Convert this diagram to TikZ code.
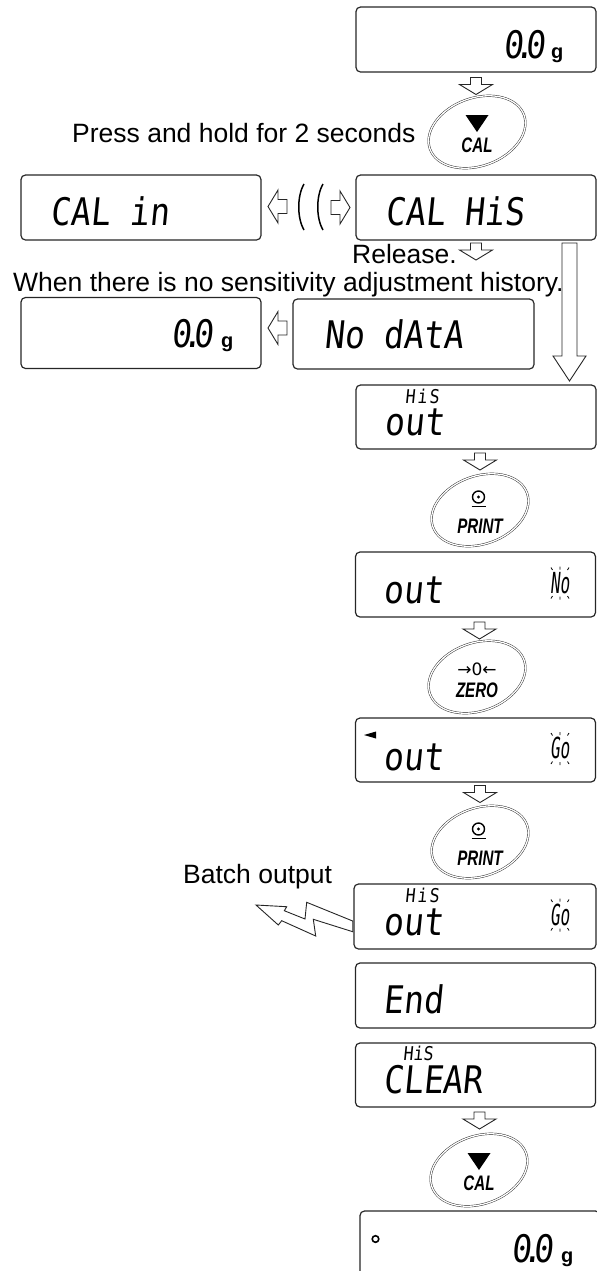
\documentclass[tikz,border=0pt]{standalone}
\usepackage{fontspec}
\setmainfont{Liberation Sans}
\newfontfamily\lcdfont[FakeStretch=0.87,FakeSlant=0.1]{DejaVu Sans Mono}
\newfontfamily\lcdnarrowfont[FakeStretch=0.55,FakeSlant=0.1]{DejaVu Sans Mono}
\newfontfamily\keyfont[FakeStretch=0.72]{Liberation Sans}
\newfontfamily\symfont{DejaVu Sans}
\usetikzlibrary{calc}
\newcommand\lcdpt{\kern-8.5bp.\kern-8.5bp}
\begin{document}
\begin{tikzpicture}[x=1bp,y=-1bp,
    lcdbox/.style={draw=black!85,line width=1.2bp,rounded corners=4.5bp,
                   minimum width=240bp,minimum height=65bp,inner sep=0},
    lcd/.style={font=\lcdfont\fontsize{38bp}{38bp}\selectfont,inner sep=0,anchor=base west},
    lcdsmall/.style={font=\lcdfont\fontsize{19bp}{19bp}\selectfont,inner sep=0,anchor=base west},
    lcdflag/.style={font=\lcdnarrowfont\fontsize{29bp}{29bp}\selectfont,inner sep=0,anchor=base west},
    unit/.style={font=\bfseries\fontsize{20bp}{20bp}\selectfont,inner sep=0,anchor=base west},
    lbl/.style={font=\fontsize{26.5bp}{30bp}\selectfont,inner sep=0,anchor=base west},
    keylbl/.style={font=\keyfont\bfseries\itshape\fontsize{21bp}{21bp}\selectfont,inner sep=0,anchor=base},
    keyring/.style={draw=black!85,line width=.45bp,double=white,double distance=1.3bp},
    hollow/.style={draw=black!85,line width=.9bp,fill=white,line join=miter},
    ray/.style={line width=.8bp},
    downarr/.pic={\draw[hollow] (-5.5,-8) -- (5.5,-8) -- (5.5,-1) -- (16.5,-1) -- (0,9)
                   -- (-16.5,-1) -- (-5.5,-1) -- cycle;},
    leftarr/.pic={\draw[hollow] (9,-7) -- (0,-7) -- (0,-16.5) -- (-10,0) -- (0,16.5)
                   -- (0,7) -- (9,7) -- cycle;},
    blink/.pic={\draw[ray] (-9,-15)--(-7.5,-12.5) (0,-16)--(0,-13) (9,-15)--(7.5,-12.5)
                           (-9,16)--(-7.5,13.5) (0,17)--(0,14) (9,16)--(7.5,13.5);},
    calkey/.pic={\draw[keyring,rotate=20] (0,0) ellipse [x radius=50,y radius=34];
                 \fill (-11.5,-17) -- (11.5,-17) -- (0,0) -- cycle;
                 \node[keylbl] (-lbl) at (0,20) {CAL};},
    printkey/.pic={\draw[keyring,rotate=20] (0,0) ellipse [x radius=50,y radius=34];
                   \draw[line width=1.4bp] (-1.5,-13) circle [radius=6];
                   \fill (-1.5,-13) circle [radius=1.7];
                   \draw[line width=1.8bp] (-8.5,-3.5) -- (5.5,-3.5);
                   \node[keylbl] (-lbl) at (0,23) {PRINT};},
    zerokey/.pic={\draw[keyring,rotate=20] (0,0) ellipse [x radius=50,y radius=34];
                  \node[font=\symfont\fontsize{17bp}{17bp}\selectfont,inner sep=0,anchor=base]
                       (-sym) at (0,-2) {→0←};
                  \node[keylbl] (-lbl) at (0,20) {ZERO};}]
 \clip (0,0) rectangle (597,1271);
 % displays
 \node[lcdbox] (b0) at (476,39.5) {};
 \node[lcdbox] (bcalin) at (141,207.5) {};
 \node[lcdbox] (bcalhis) at (476,207.5) {};
 \node[lcdbox,minimum height=71bp] (bzero) at (141,333) {};
 \node[lcdbox,minimum height=70bp,minimum width=241bp] (bnodata) at (413.5,334) {};
 \node[lcdbox,minimum height=64bp] (bhisout) at (476,417) {};
 \node[lcdbox] (boutno) at (475.5,584.5) {};
 \node[lcdbox,minimum height=64bp] (boutgo) at (475.5,750) {};
 \node[lcdbox,minimum width=242bp] (bhisoutgo) at (475,916.5) {};
 \node[lcdbox] (bend) at (475.5,995.5) {};
 \node[lcdbox,minimum height=64bp] (bclear) at (475.5,1075) {};
 \node[lcdbox] (bfinal) at (480,1243.5) {};
 % display texts
 \node[lcd,anchor=base east] (t0) at (546,58) {0\lcdpt0};
 \node[unit] (t0g) at (551,58) {g};
 \node[lcd] (tcalin) at (50,225) {CAL in};
 \node[lcd] (tcalhis) at (385,225) {CAL HiS};
 \node[lcd,anchor=base east] (tzero) at (214,347) {0\lcdpt0};
 \node[unit] (tzerog) at (221,347) {g};
 \node[lcd] (tnodata) at (324,348) {No dAtA};
 \node[lcdsmall] (this1) at (405,403) {H\kern2bp i\kern2bp S};
 \node[lcd] (tout1) at (384,435) {out};
 \node[lcd] (tout2) at (383,603) {out};
 \node[lcdflag] (tno) at (550,593) {No};
 \pic at (560,582.5) {blink};
 \fill (364,735) -- (376,731.5) -- (376,738.5) -- cycle;
 \node[lcd] (tout3) at (383,770) {out};
 \node[lcdflag] (tgo1) at (550,758) {Go};
 \pic at (560,748) {blink};
 \node[lcdsmall] (this2) at (405,902) {H\kern2bp i\kern2bp S};
 \node[lcd] (tout4) at (383,935) {out};
 \node[lcdflag] (tgo2) at (550,925) {Go};
 \pic at (560,914.5) {blink};
 \node[lcd] (tend) at (383,1013) {End};
 \node[lcdsmall] (this3) at (403,1060) {HiS};
 \node[lcd] (tclear) at (383,1093) {CLEAR};
 \draw[line width=1.6bp] (375.5,1239) circle [radius=3.3];
 \node[lcd,anchor=base east] (tfinal) at (554,1262) {0\lcdpt0};
 \node[unit] (tfinalg) at (561,1262) {g};
 % keys
 \pic (cal1) at (477,132) {calkey};
 \pic (print1) at (480,510) {printkey};
 \pic (zero) at (477,677) {zerokey};
 \pic (print2) at (480,842) {printkey};
 \pic (cal2) at (479,1170) {calkey};
 % arrows
 \pic at (476,85.5) {downarr};
 \pic at (476,251) {downarr};
 \pic at (480,461) {downarr};
 \pic at (479.5,630) {downarr};
 \pic at (480,793.5) {downarr};
 \pic at (479.5,1120) {downarr};
 \pic at (278,206.5) {leftarr};
 \pic[rotate=180] at (340,207.5) {leftarr};
 \pic at (278,328) {leftarr};
 \draw[line width=1.5bp] (304,184) .. controls (297,196) and (297,218) .. (304,230);
 \draw[line width=1.5bp] (323,184) .. controls (316,196) and (316,218) .. (323,230);
 \draw[hollow] (562,243) -- (577,243) -- (577,356) -- (586,356) -- (569.5,381)
               -- (553,356) -- (562,356) -- cycle;
 \draw[hollow] (352.7,921) -- (306.7,902.3) -- (305,919) -- (284.3,910.7) -- (286.7,906.7)
               -- (256,905) -- (278.3,925) -- (281.7,920.7) -- (315.7,936) -- (313.3,919.3)
               -- (352.7,931.7) -- cycle;
 % labels
 \node[lbl] (lhold) at (72,142) {Press and hold for 2 seconds};
 \node[lbl] (lrel) at (352,263) {Release.};
 \node[lbl] (lnohist) at (13,291) {When there is no sensitivity adjustment history.};
 \node[lbl] (lbatch) at (183,883) {Batch output};
\end{tikzpicture}
\end{document}
